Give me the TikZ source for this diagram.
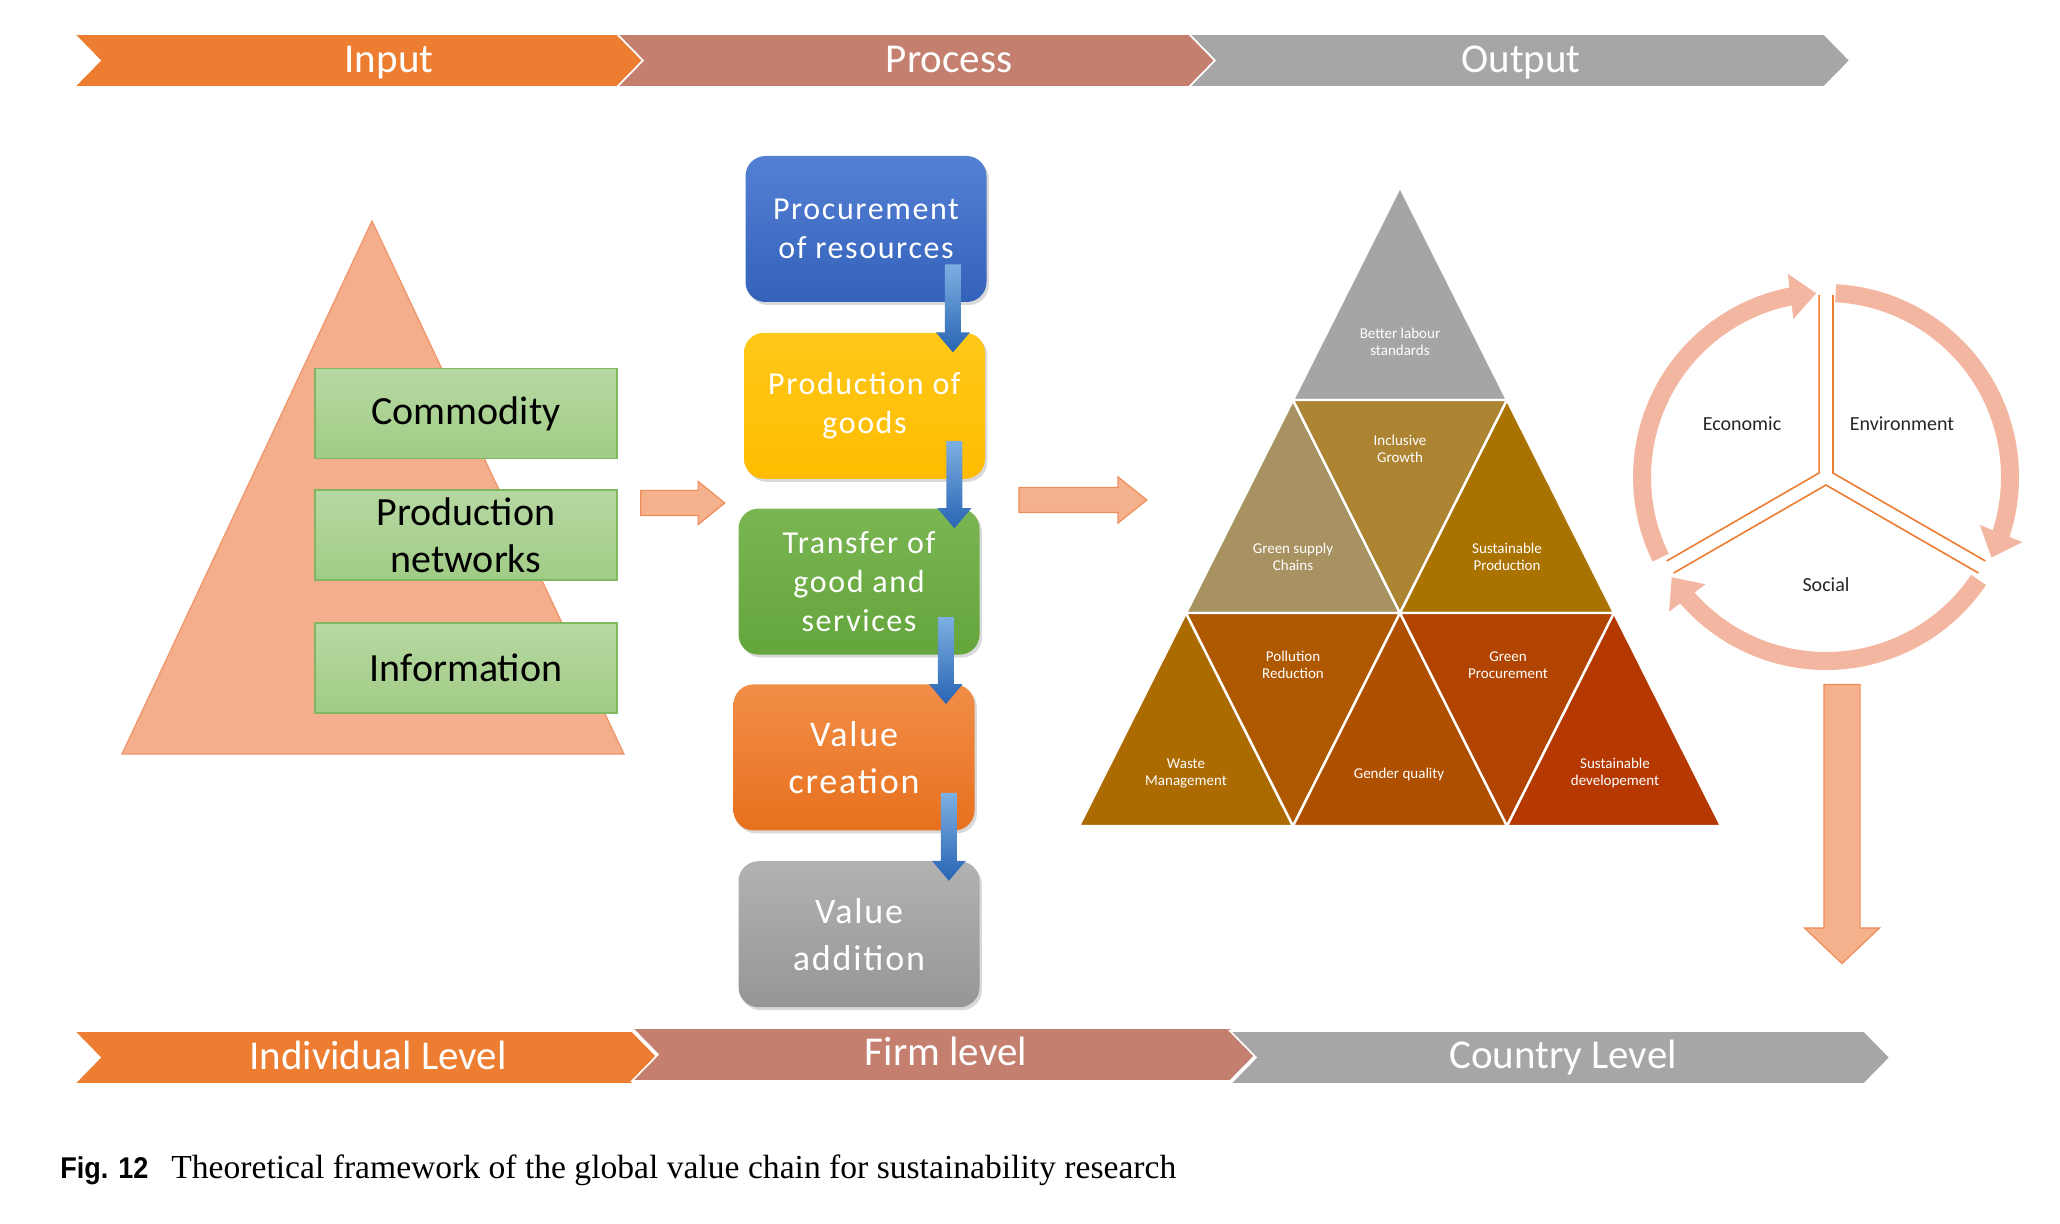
\documentclass[tikz,border=0pt]{standalone}
\usepackage{fontspec}
\setmainfont{Carlito}
\newfontfamily\spaced[LetterSpace=5]{Carlito}
\newfontfamily\capsans[FakeStretch=0.9]{Liberation Sans}
\newfontfamily\capserif{Liberation Serif}
\usepackage{tikz}
\usetikzlibrary{shapes,shapes.arrows,arrows.meta,positioning,calc,shadows,bending}
\definecolor{inorange}{RGB}{237, 125, 49}
\definecolor{procrose}{RGB}{196, 127, 110}
\definecolor{outgray}{RGB}{166, 166, 166}
\definecolor{salmon}{RGB}{244, 174, 140}
\definecolor{salmonline}{RGB}{240, 148, 104}
\definecolor{arrowfill}{RGB}{244, 177, 140}
\definecolor{arrowline}{RGB}{238, 140, 90}
\definecolor{ringpink}{RGB}{243, 182, 160}
\definecolor{greentop}{RGB}{183, 216, 162}
\definecolor{greenbot}{RGB}{160, 204, 133}
\definecolor{greenline}{RGB}{128, 184, 98}
\definecolor{flowtop}{RGB}{125, 175, 225}
\definecolor{flowbot}{RGB}{40, 100, 180}
\definecolor{tgray}{RGB}{165, 165, 165}
\definecolor{tgsc}{RGB}{169, 146, 98}
\definecolor{tig}{RGB}{172, 132, 50}
\definecolor{tsp}{RGB}{170, 115, 0}
\definecolor{twm}{RGB}{172, 107, 0}
\definecolor{tpr}{RGB}{174, 88, 0}
\definecolor{tgq}{RGB}{175, 80, 0}
\definecolor{tgp}{RGB}{176, 68, 0}
\definecolor{tsd}{RGB}{180, 56, 0}
\definecolor{darktext}{RGB}{38, 38, 38}
\newcommand{\chevron}[6]{\filldraw[fill=#6, draw=white, line width=0.8pt] (#1,#3) -- (#2,#3) -- ({#2+26},#4) -- (#2,#5) -- (#1,#5) -- ({#1+26},#4) -- cycle;}
\newcommand{\flowdown}[2]{\shade[top color=flowtop, bottom color=flowbot] let \p1=(#1), \p2=(#2) in
  (\x1-4pt,\y1) -- (\x1+4pt,\y1) -- (\x1+4pt,\y2+10pt) -- (\x1+8.5pt,\y2+10pt) -- (\x1,\y2) -- (\x1-8.5pt,\y2+10pt) -- (\x1-4pt,\y2+10pt) -- cycle;}
\tikzstyle{chevtext} = [text=white, font=\fontsize{20.5}{24}\selectfont]
\tikzstyle{inbox} = [rectangle, draw=greenline, line width=0.8pt, top color=greentop, bottom color=greenbot, minimum width=151pt, minimum height=45pt, align=center, text=black, font=\fontsize{20}{23.5}\selectfont]
\tikzstyle{pbox} = [rectangle, rounded corners=10pt, minimum width=120.5pt, minimum height=73pt, align=center, text=white, font=\spaced\fontsize{16}{19.7}\selectfont, drop shadow={shadow xshift=1.2pt, shadow yshift=-1.5pt, opacity=0.3}]
\tikzstyle{vbox} = [pbox, font=\spaced\fontsize{18}{23.5}\selectfont]
\tikzstyle{tri} = [draw=white, line width=1.2pt, line join=round]
\tikzstyle{trilabel} = [text=white, align=center, font=\fontsize{7.5}{8.5}\selectfont]
\tikzstyle{blockarrow} = [single arrow, fill=arrowfill, draw=arrowline, line width=0.6pt, inner sep=0pt]
\tikzstyle{ring} = [ringpink, line width=9pt, -{Triangle[width=22pt,length=13pt]}]
\tikzstyle{sector} = [draw=inorange, line width=0.8pt]
\tikzstyle{pillar} = [text=darktext, font=\fontsize{10}{12}\selectfont]

\begin{document}
\begin{tikzpicture}[x=0.5pt, y=-0.5pt]
\useasboundingbox (0,0) rectangle (2060,1224);

% Stage bands =============================
\chevron{74}{617}{34}{60.5}{87}{inorange}
\chevron{617}{1189}{34}{60.5}{87}{procrose}
\chevron{1189}{1824}{34}{60.5}{87}{outgray}
\node[chevtext] (input) at (389,63) {Input};
\node[chevtext] (process) at (949,60) {Process};
\node[chevtext] (output) at (1521,63) {Output};

\chevron{74}{632}{1031}{1057.5}{1084}{inorange}
\chevron{632}{1230}{1028}{1054.5}{1081}{procrose}
\chevron{1230}{1864}{1031}{1057.5}{1084}{outgray}
\node[chevtext] (individual) at (378,1055) {Individual Level};
\node[chevtext] (firm) at (946,1051) {Firm level};
\node[chevtext] (country) at (1563,1058) {Country Level};

% Input pyramid =============================
\coordinate (ltop) at (372,221);
\coordinate (lleft) at (122,754);
\coordinate (lright) at (624,754);
\filldraw[fill=salmon, draw=salmonline, line width=0.6pt] (ltop) -- (lleft) -- (lright) -- cycle;

\node[inbox] (commodity) at (466,413.5) {Commodity};
\node[inbox, below=15pt of commodity] (prodnet) {Production\\networks};
\node[inbox, below=20.5pt of prodnet] (information) {Information};

\node[blockarrow, minimum height=42pt, minimum width=21pt, inner ysep=6pt, single arrow head extend=4.5pt, single arrow tip angle=78] (arrin) at (675,503) {};

% Process chain =============================
\node[pbox, top color={rgb,255:red,84;green,128;blue,212}, bottom color={rgb,255:red,52;green,98;blue,186}] (procure) at (866,229) {Procurement\\of resources};
\node[pbox, top color={rgb,255:red,255;green,200;blue,25}, bottom color={rgb,255:red,255;green,188;blue,0}, below=15pt of procure, xshift=-0.75pt] (production) {Production of\\goods};
\node[pbox, top color={rgb,255:red,122;green,182;blue,82}, bottom color={rgb,255:red,100;green,165;blue,60}, below=14.5pt of production, xshift=-2.75pt] (transfer) {Transfer of\\good and\\services};
\node[vbox, top color={rgb,255:red,241;green,142;blue,72}, bottom color={rgb,255:red,232;green,112;blue,30}, below=14.5pt of transfer, xshift=-2.5pt] (creation) {Value\\creation};
\node[vbox, top color={rgb,255:red,178;green,178;blue,178}, bottom color={rgb,255:red,150;green,150;blue,150}, below=15pt of creation, xshift=2.5pt] (addition) {Value\\addition};

\flowdown{[xshift=-17pt,yshift=19pt]procure.south east}{[yshift=-10pt]production.north}
\flowdown{[xshift=-15.5pt,yshift=19pt]production.south east}{[yshift=-10pt]transfer.north}
\flowdown{[xshift=-17pt,yshift=19pt]transfer.south east}{[yshift=-10pt]creation.north}
\flowdown{[xshift=-13pt,yshift=19pt]creation.south east}{[yshift=-10pt]addition.north}

\node[blockarrow, minimum height=64pt, minimum width=22.5pt, inner ysep=6pt, single arrow head extend=5.25pt, single arrow tip angle=77] (arrout) at (1075,500) {};

% Output pyramid =============================
\coordinate (apex) at (1400,187);
\coordinate (t1) at (1293,400);
\coordinate (t2) at (1507,400);
\coordinate (m1) at (1186,613);
\coordinate (m2) at (1400,613);
\coordinate (m3) at (1614,613);
\coordinate (b1) at (1079,826);
\coordinate (b2) at (1293,826);
\coordinate (b3) at (1507,826);
\coordinate (b4) at (1721,826);

\filldraw[tri, fill=tgray] (apex) -- (t1) -- (t2) -- cycle;
\filldraw[tri, fill=tgsc] (t1) -- (m1) -- (m2) -- cycle;
\filldraw[tri, fill=tig] (t1) -- (t2) -- (m2) -- cycle;
\filldraw[tri, fill=tsp] (t2) -- (m2) -- (m3) -- cycle;
\filldraw[tri, fill=twm] (m1) -- (b1) -- (b2) -- cycle;
\filldraw[tri, fill=tpr] (m1) -- (m2) -- (b2) -- cycle;
\filldraw[tri, fill=tgq] (m2) -- (b2) -- (b3) -- cycle;
\filldraw[tri, fill=tgp] (m2) -- (m3) -- (b3) -- cycle;
\filldraw[tri, fill=tsd] (m3) -- (b3) -- (b4) -- cycle;

\node[trilabel] (labour) at (1400,342) {Better labour\\standards};
\node[trilabel] (inclusive) at (1400,449) {Inclusive\\Growth};
\node[trilabel] (greensupply) at (1293,557) {Green supply\\Chains};
\node[trilabel] (sustprod) at (1507,557) {Sustainable\\Production};
\node[trilabel] (pollution) at (1293,665) {Pollution\\Reduction};
\node[trilabel] (greenproc) at (1508,665) {Green\\Procurement};
\node[trilabel] (waste) at (1186,773) {Waste\\Management};
\node[trilabel] (gender) at (1399,774) {Gender quality};
\node[trilabel] (sustdev) at (1615,773) {Sustainable\\developement};

% Sustainability cycle =============================
\begin{scope}[shift={(1826,477)}, yscale=-1]
\draw[ring] (206:184) arc[start angle=206, end angle=93, radius=184];
\draw[ring] (87:184) arc[start angle=87, end angle=-26, radius=184];
\draw[ring] (-34:184) arc[start angle=-34, end angle=-147, radius=184];

\draw[sector] ($(150:8)+(90:178)$) -- (150:8) -- ($(150:8)+(210:176)$);
\draw[sector] ($(30:8)+(90:178)$) -- (30:8) -- ($(30:8)+(-30:176)$);
\draw[sector] ($(270:8)+(210:176)$) -- (270:8) -- ($(270:8)+(-30:176)$);

\node[pillar] (economic) at (-84,53) {Economic};
\node[pillar] (environment) at (76,53) {Environment};
\node[pillar] (social) at (0,-108) {Social};
\end{scope}

\node[blockarrow, minimum height=139.5pt, minimum width=37pt, inner ysep=8.75pt, single arrow head extend=9.75pt, single arrow tip angle=93, rotate=-90] (arrdown) at (1842,815.5) {};

% Caption =============================
\node[anchor=base west, inner sep=0pt, font=\capsans\bfseries\fontsize{15}{17}\selectfont] (figno) at (60,1178) {Fig. 12};
\node[anchor=base west, inner sep=0pt, font=\capserif\fontsize{16.8}{19}\selectfont] (caption) at (171,1178) {Theoretical framework of the global value chain for sustainability research};

\end{tikzpicture}
\end{document}
